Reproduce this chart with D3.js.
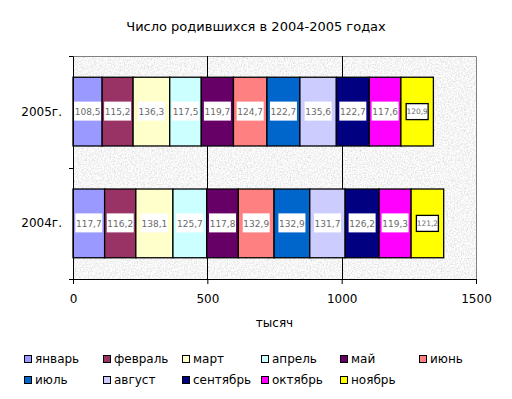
<!DOCTYPE html>
<html>
<head>
<meta charset="utf-8">
<script src="https://cdn.jsdelivr.net/npm/d3@7"></script>
<style>
  body { margin: 0; background: #fff; }
  text { font-family: "DejaVu Sans", Verdana, sans-serif; }
</style>
</head>
<body>
<div id="chart"></div>
<script>
// данные
var years = ["2005г.", "2004г."];
var months = ["январь", "февраль", "март", "апрель", "май", "июнь",
              "июль", "август", "сентябрь", "октябрь", "ноябрь"];
var values2005 = [108.5, 115.2, 136.3, 117.5, 119.7, 124.7, 122.7, 135.6, 122.7, 117.6, 120.9];
var values2004 = [117.7, 116.2, 138.1, 125.7, 117.8, 132.9, 132.9, 131.7, 126.2, 119.3, 121.2];
var colors = ["#9999FF", "#993366", "#FFFFCC", "#CCFFFF", "#660066", "#FF8080",
              "#0066CC", "#CCCCFF", "#000080", "#FF00FF", "#FFFF00"];
var xTicks = [0, 500, 1000, 1500];

var width = 512, height = 399;
var plot = { left: 73, right: 476, top: 56, bottom: 279 };

var svg = d3.select("#chart").append("svg")
    .attr("width", width).attr("height", height);

// texture du fond (granit)
var defs = svg.append("defs");
var filter = defs.append("filter").attr("id", "granite")
    .attr("x", 0).attr("y", 0).attr("width", "100%").attr("height", "100%");
filter.append("feTurbulence")
    .attr("type", "fractalNoise").attr("baseFrequency", 0.7)
    .attr("numOctaves", 3).attr("seed", 3);
filter.append("feColorMatrix").attr("type", "matrix")
    .attr("values", "0.55 0 0 0 0.64  0.55 0 0 0 0.64  0.55 0 0 0 0.64  0 0 0 0 1");

var x = d3.scaleLinear().domain([0, 1500]).range([plot.left, plot.right]);
var y = d3.scaleBand().domain(years).range([plot.top, plot.bottom]).paddingInner(0.385).paddingOuter(0.19);
var yOuter = d3.scaleBand().domain(years).range([plot.top, plot.bottom]);

svg.append("rect")
    .attr("x", plot.left).attr("y", plot.top)
    .attr("width", plot.right - plot.left).attr("height", plot.bottom - plot.top)
    .attr("filter", "url(#granite)");

// cadre gris haut et droite
svg.append("path")
    .attr("d", "M" + plot.left + "," + (plot.top + 0.5) + "H" + (plot.right + 0.5) + "V" + plot.bottom)
    .attr("fill", "none").attr("stroke", "#808080");

// grille verticale
svg.append("g").selectAll("line")
    .data(xTicks.slice(1, -1))
    .join("line")
    .attr("x1", function(d) { return Math.round(x(d)) + 0.5; })
    .attr("x2", function(d) { return Math.round(x(d)) + 0.5; })
    .attr("y1", plot.top).attr("y2", plot.bottom)
    .attr("stroke", "#000");

// barres empilées
var series = [values2005, values2004];
var stacked = series.map(function(vals, yi) {
    var acc = 0;
    return vals.map(function(v, i) {
        var seg = { year: years[yi], month: i, value: v, x0: acc, x1: acc + v };
        acc += v;
        return seg;
    });
});
var allSegs = stacked[0].concat(stacked[1]);

var bars = svg.append("g").attr("class", "bars");
bars.selectAll("rect")
    .data(allSegs)
    .join("rect")
    .attr("x", function(d) { return x(d.x0); })
    .attr("y", function(d) { return y(d.year); })
    .attr("width", function(d) { return x(d.x1) - x(d.x0); })
    .attr("height", y.bandwidth())
    .attr("fill", function(d) { return colors[d.month]; })
    .attr("stroke", "#000").attr("stroke-width", 1.3);

// étiquettes de valeurs
var fmt = function(v) { return d3.format(".1f")(v).replace(".", ","); };
var labels = svg.append("g").attr("class", "labels");
var lab = labels.selectAll("g")
    .data(allSegs)
    .join("g")
    .attr("transform", function(d) {
        return "translate(" + ((x(d.x0) + x(d.x1)) / 2) + "," + (y(d.year) + y.bandwidth() / 2) + ")";
    });
lab.append("rect")
    .attr("x", function(d) { return d.month == 10 ? -11 : -13.5; })
    .attr("y", function(d) { return d.month == 10 ? -8 : -10; })
    .attr("width", function(d) { return d.month == 10 ? 22 : 27; })
    .attr("height", function(d) { return d.month == 10 ? 16 : 19; })
    .attr("fill", "#fff")
    .attr("stroke", function(d) { return d.month == 10 ? "#000" : "none"; })
    .attr("stroke-width", 1.3);
lab.append("text")
    .attr("text-anchor", "middle").attr("dy", "0.35em")
    .attr("font-size", function(d) { return d.month == 10 ? 7.5 : 9; })
    .attr("fill", "#6a6a6a")
    .text(function(d) { return fmt(d.value); });

// axe X
var xAxis = svg.append("g")
    .attr("transform", "translate(0," + plot.bottom + ")")
    .call(d3.axisBottom(x).tickValues(xTicks).tickFormat(d3.format("d")).tickSize(5).tickPadding(10));
xAxis.select(".domain").attr("stroke", "#000");
xAxis.selectAll(".tick line").attr("stroke", "#000");
xAxis.selectAll("text").attr("font-size", 12).attr("fill", "#000")
    .attr("font-family", "DejaVu Sans, sans-serif");

// axe Y
var yAxis = svg.append("g")
    .attr("transform", "translate(" + plot.left + ",0)")
    .call(d3.axisLeft(yOuter).tickSize(0).tickPadding(11));
yAxis.select(".domain").attr("stroke", "#000");
yAxis.selectAll("text").attr("font-size", 12).attr("fill", "#000")
    .attr("font-family", "DejaVu Sans, sans-serif");
// graduations entre catégories
svg.append("g").selectAll("line")
    .data([plot.top, (plot.top + plot.bottom) / 2, plot.bottom])
    .join("line")
    .attr("x1", plot.left - 4).attr("x2", plot.left)
    .attr("y1", function(d) { return Math.round(d) + 0.5; })
    .attr("y2", function(d) { return Math.round(d) + 0.5; })
    .attr("stroke", "#000");

// titre
svg.append("text")
    .attr("x", 256).attr("y", 31)
    .attr("text-anchor", "middle").attr("font-size", 13)
    .text("Число родившихся в 2004-2005 годах");

svg.append("text")
    .attr("x", (plot.left + plot.right) / 2).attr("y", 327)
    .attr("text-anchor", "middle").attr("font-size", 12)
    .text("тысяч");

// légende
var legend = svg.append("g").attr("class", "legend");
var item = legend.selectAll("g")
    .data(months)
    .join("g")
    .attr("transform", function(d, i) {
        return "translate(" + (24 + (i % 6) * 79) + "," + (359 + Math.floor(i / 6) * 21) + ")";
    });
item.append("rect")
    .attr("x", 0.5).attr("y", -3.5).attr("width", 7).attr("height", 7)
    .attr("fill", function(d, i) { return colors[i]; })
    .attr("stroke", "#000");
item.append("text")
    .attr("x", 11).attr("dy", "0.35em").attr("font-size", 12)
    .text(function(d) { return d; });
</script>
</body>
</html>
